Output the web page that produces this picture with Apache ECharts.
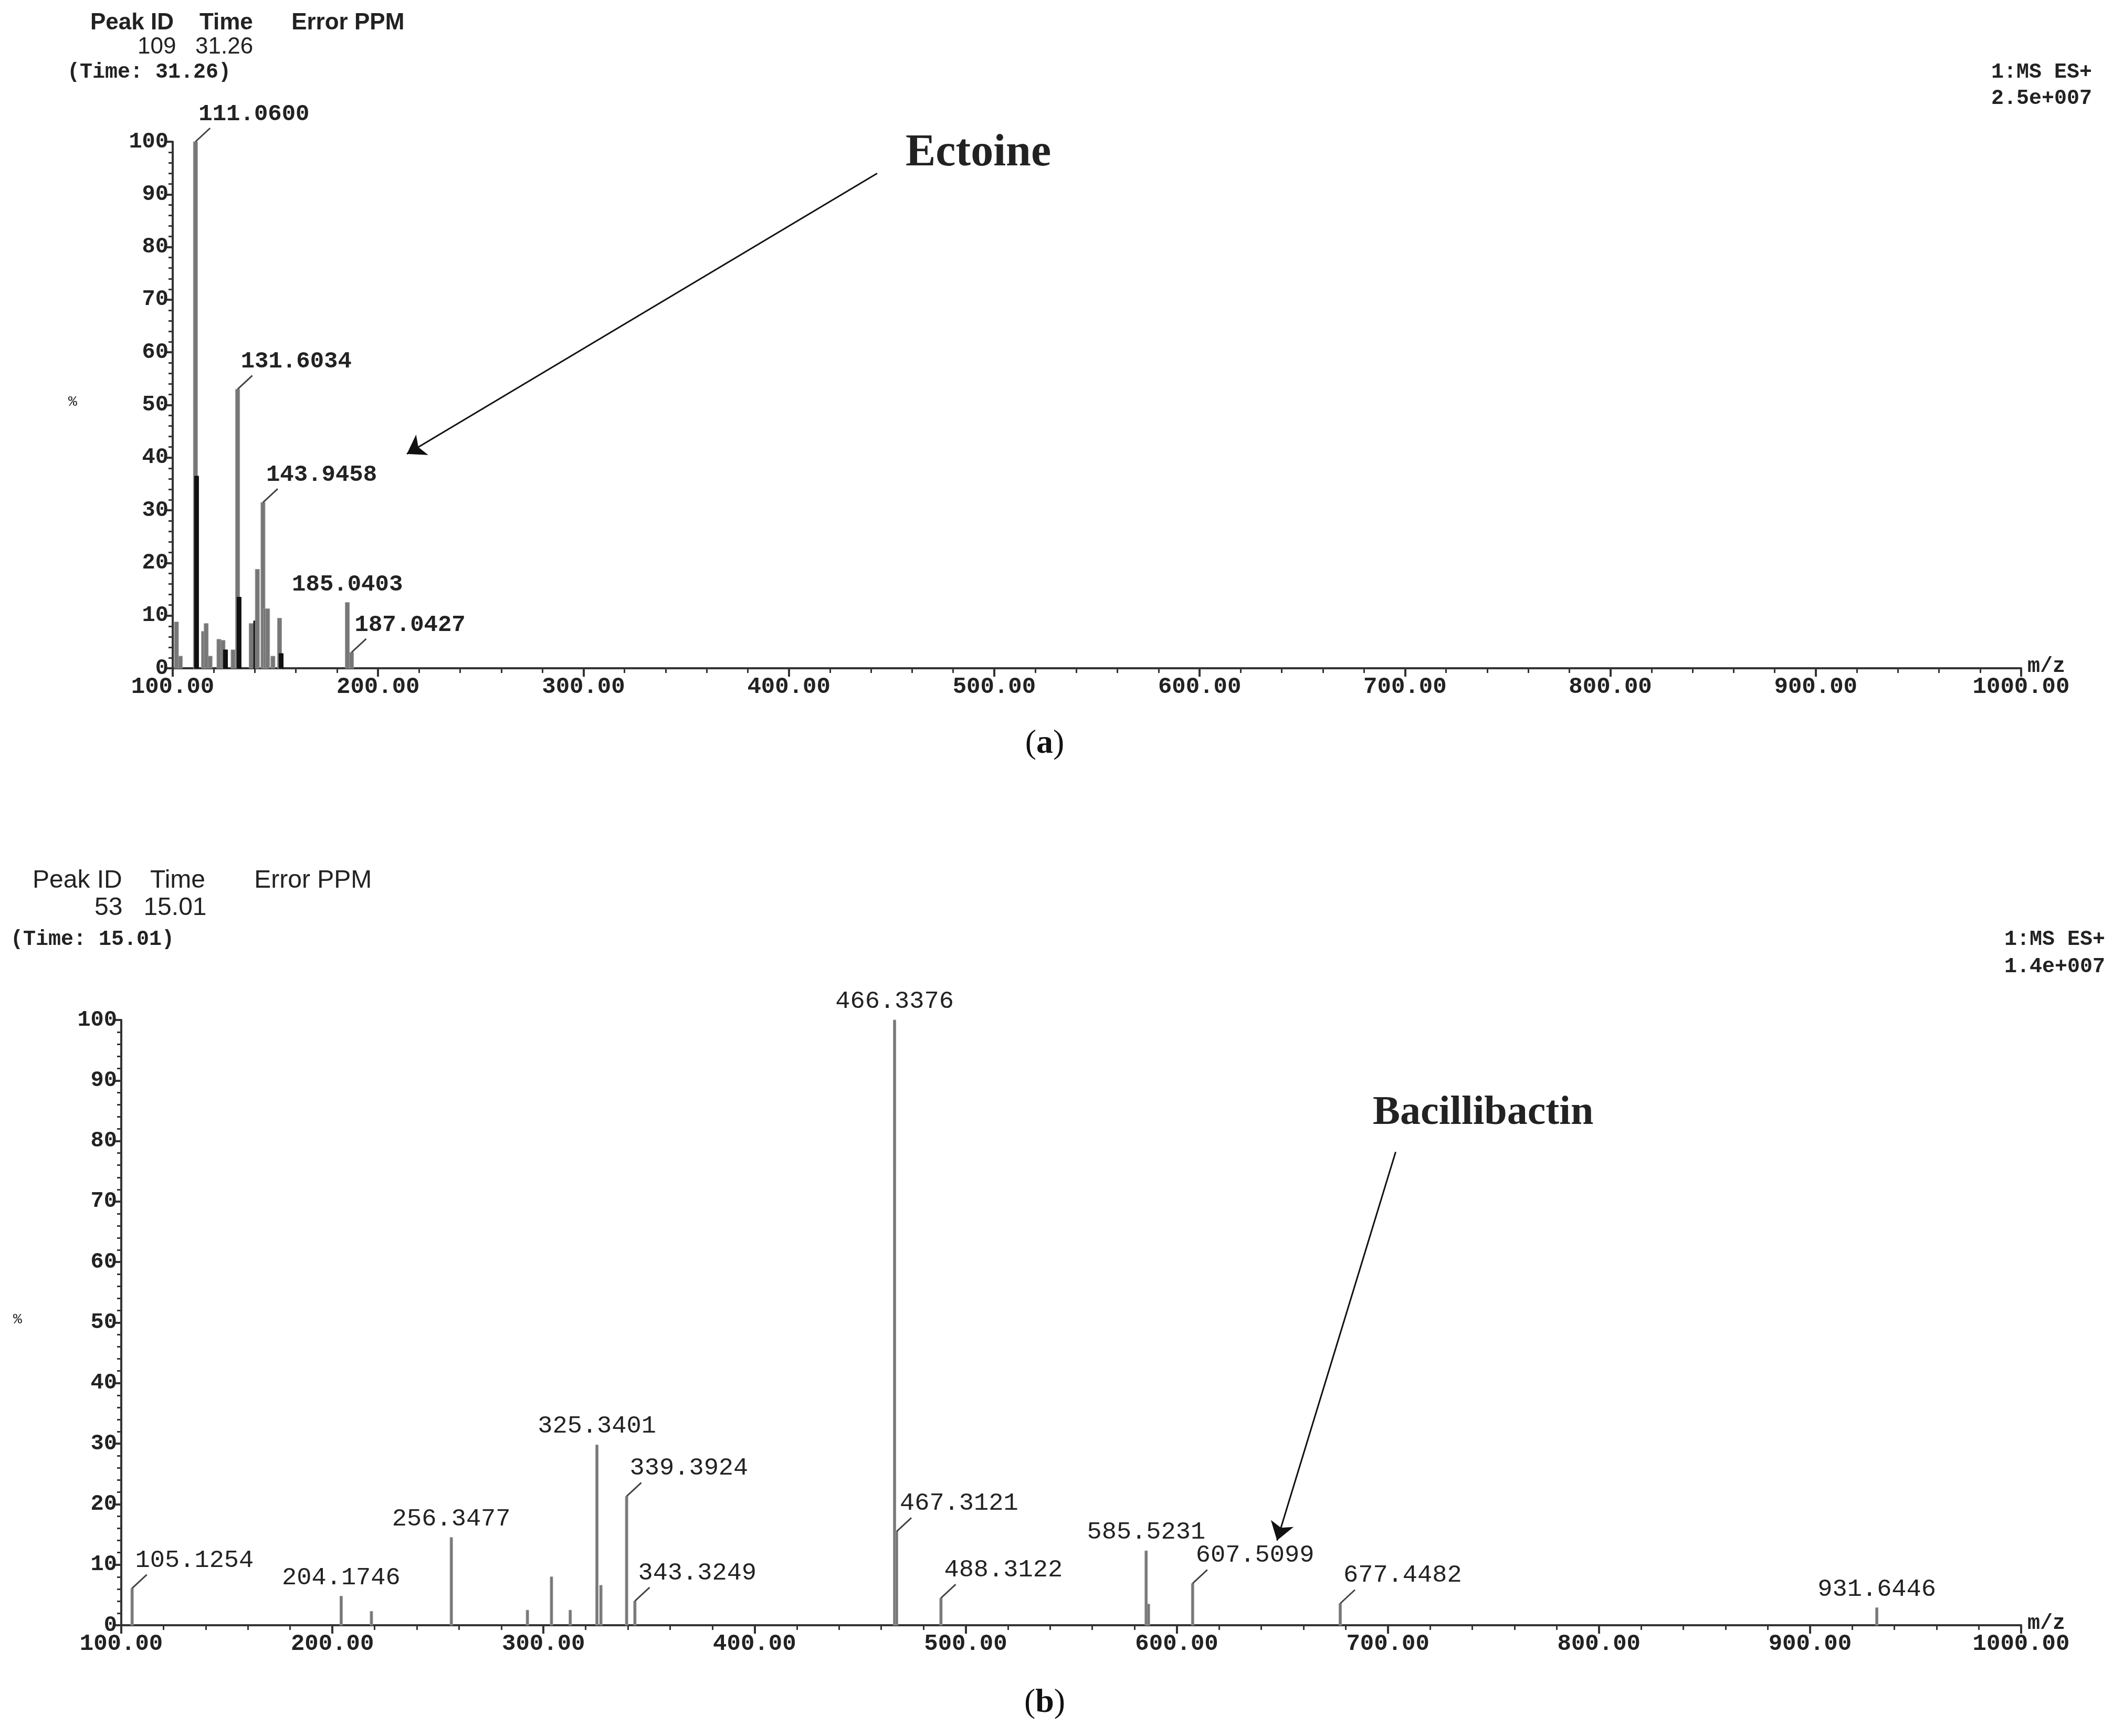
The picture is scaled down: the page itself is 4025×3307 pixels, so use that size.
<!DOCTYPE html>
<html><head><meta charset="utf-8">
<script src="https://cdn.jsdelivr.net/npm/echarts@6/dist/echarts.min.js"></script>
<style>html,body{margin:0;padding:0;background:#fff}#c{width:4025px;height:3307px}</style>
</head><body><div id="c"></div>
<script>
// Panel (a) peaks
const aMz = [101.8,103.7,111.06,111.6,115,116.3,118.2,122.5,124.5,125.7,129.4,131.6034,132.3,138.2,140.4,141.2,143.9458,145.1,146.2,148.8,152,152.8,185.0403,187.0427];
const aInt = [8.8,2.3,100,36.5,7,8.5,2.3,5.5,5.3,3.5,3.5,53,13.5,8.5,9,18.8,31.5,11.3,11.3,2.3,9.5,2.8,12.5,3];
const aTone = ['g','g','g','k','g','g','g','g','g','k','g','g','k','g','k','g','g','g','g','g','g','k','g','g'];
const aLabel = ['','','111.0600','','','','','','','','','131.6034','','','','','143.9458','','','','','','185.0403','187.0427'];
const aLead = [0,0,1,0,0,0,0,0,0,0,0,1,0,0,0,0,1,0,0,0,0,0,0,1];
// Panel (b) peaks
const bMz = [105.1254,204.1746,218.5,256.3477,292.4,303.8,312.7,325.3401,327.2,339.3924,343.3249,466.3376,467.3121,488.3122,585.5231,586.6,607.5099,677.4482,931.6446];
const bInt = [6.1,4.8,2.3,14.5,2.5,8,2.5,29.8,6.6,21.3,4,100,15.5,4.5,12.3,3.5,6.9,3.6,2.9];
const bLabel = ['105.1254','204.1746','','256.3477','','','','325.3401','','339.3924','343.3249','466.3376','467.3121','488.3122','585.5231','','607.5099','677.4482','931.6446'];
const bLead = [1,0,0,0,0,0,0,0,0,1,1,0,1,1,0,0,1,1,0];
const xTicks = [100,200,300,400,500,600,700,800,900,1000];
const yTicks = [0,10,20,30,40,50,60,70,80,90,100];

const mono = 'Liberation Mono';
function mk(mz, it, lab, lead, tone){
  return mz.map((m,i)=>[m,it[i],lab[i],lead[i],tone?tone[i]:'g']);
}
function renderer(barW, fs, fw){
  return function(params, api){
    const x = api.value(0), y = api.value(1);
    const lab = api.value(2), lead = api.value(3), tone = api.value(4);
    const p0 = api.coord([x,0]), p1 = api.coord([x,y]);
    const ch = [];
    ch.push({type:'rect', shape:{x:p1[0]-barW/2, y:p1[1], width:barW, height:p0[1]-p1[1]},
      style:{fill: tone==='k' ? '#111' : '#777', stroke: tone==='k'?'#111':'#999', lineWidth:1}});
    const ts = {fill:'#222', fontSize:fs, fontFamily:mono, fontWeight:fw};
    if (lab){
      if (lead==1){
        ch.push({type:'line', shape:{x1:p1[0], y1:p1[1], x2:p1[0]+28, y2:p1[1]-26}, style:{stroke:'#444', lineWidth:3}});
        ch.push({type:'text', style:Object.assign({text:lab, x:p1[0]+6, y:p1[1]-30, align:'left', verticalAlign:'bottom'}, ts)});
      } else {
        ch.push({type:'text', style:Object.assign({text:lab, x:p1[0], y:p1[1]-12, align:'center', verticalAlign:'bottom'}, ts)});
      }
    }
    return {type:'group', children:ch};
  };
}
function xAx(gi){
  return {type:'value', gridIndex:gi, min:100, max:1000, interval:100,
    axisLine:{show:true, lineStyle:{color:'#333', width:4}},
    axisTick:{show:true, length:16, lineStyle:{color:'#333', width:4}},
    minorTick:{show:true, splitNumber:5, length:9, lineStyle:{color:'#333', width:3}},
    splitLine:{show:false},
    axisLabel:{formatter:v=>v.toFixed(2), fontFamily:mono, fontSize:44, fontWeight:'bold', color:'#222', margin:14}};
}
function yAx(gi){
  return {type:'value', gridIndex:gi, min:0, max:100, interval:10,
    axisLine:{show:true, lineStyle:{color:'#333', width:4}},
    axisTick:{show:true, length:12, lineStyle:{color:'#333', width:4}},
    minorTick:{show:true, splitNumber:5, length:8, lineStyle:{color:'#333', width:3}},
    splitLine:{show:false},
    axisLabel:{fontFamily:mono, fontSize:42, fontWeight:'bold', color:'#222', margin:8}};
}
const hdr = (x,y,t,size,fam,weight,align)=>({type:'text', x:x, y:y,
  style:{text:t, fontSize:size, fontFamily:fam, fontWeight:weight||'normal', fill:'#222', textAlign:align||'left'}});
const cap = (x,y,l)=>({type:'text', x:x, y:y, style:{text:'({b|'+l+'})', fontSize:64, fontFamily:'Liberation Serif', fill:'#111', textAlign:'center',
  rich:{b:{fontSize:64, fontFamily:'Liberation Serif', fontWeight:'bold', fill:'#111'}}}});

const chart = echarts.init(document.getElementById('c'));
chart.setOption({
  backgroundColor:'#fff', animation:false,
  grid:[{left:329, top:270, width:3521, height:1003},{left:231, top:1943, width:3619, height:1153}],
  xAxis:[xAx(0), xAx(1)],
  yAxis:[yAx(0), yAx(1)],
  series:[
    {type:'custom', xAxisIndex:0, yAxisIndex:0, renderItem:renderer(8,44,'bold'), data:mk(aMz,aInt,aLabel,aLead,aTone), clip:false,
     markLine:{silent:true, symbol:['none','arrow'], symbolSize:34, label:{show:false}, lineStyle:{color:'#111', width:3, type:'solid'},
       data:[[{coord:[443,94]},{coord:[214,40.7]}]]}},
    {type:'custom', xAxisIndex:1, yAxisIndex:1, renderItem:renderer(5,47,'normal'), data:mk(bMz,bInt,bLabel,bLead,null), clip:false,
     markLine:{silent:true, symbol:['none','arrow'], symbolSize:34, label:{show:false}, lineStyle:{color:'#111', width:3, type:'solid'},
       data:[[{coord:[703.7,78.2]},{coord:[647.5,14]}]]}}
  ],
  graphic:[
    hdr(172,22,'Peak ID    Time      Error PPM',44,'Liberation Sans','bold'),
    hdr(262,68,'109   31.26',44,'Liberation Sans','normal'),
    hdr(128,118,'(Time: 31.26)',40,mono,'bold'),
    hdr(3985,118,'1:MS ES+',40,mono,'bold','right'),
    hdr(3985,168,'2.5e+007',40,mono,'bold','right'),
    hdr(130,752,'%',28,mono,'normal'),
    hdr(3862,1250,'m/z',40,mono,'bold'),
    hdr(1725,250,'Ectoine',86,'Liberation Serif','bold'),
    cap(1990,1385,'a'),
    hdr(62,1654,'Peak ID    Time       Error PPM',48,'Liberation Sans','normal'),
    hdr(180,1706,'53   15.01',48,'Liberation Sans','normal'),
    hdr(20,1770,'(Time: 15.01)',40,mono,'bold'),
    hdr(4010,1770,'1:MS ES+',40,mono,'bold','right'),
    hdr(4010,1822,'1.4e+007',40,mono,'bold','right'),
    hdr(25,2500,'%',28,mono,'normal'),
    hdr(3862,3073,'m/z',40,mono,'bold'),
    hdr(2615,2082,'Bacillibactin',78,'Liberation Serif','bold'),
    cap(1990,3212,'b')
  ]
});
</script></body></html>
